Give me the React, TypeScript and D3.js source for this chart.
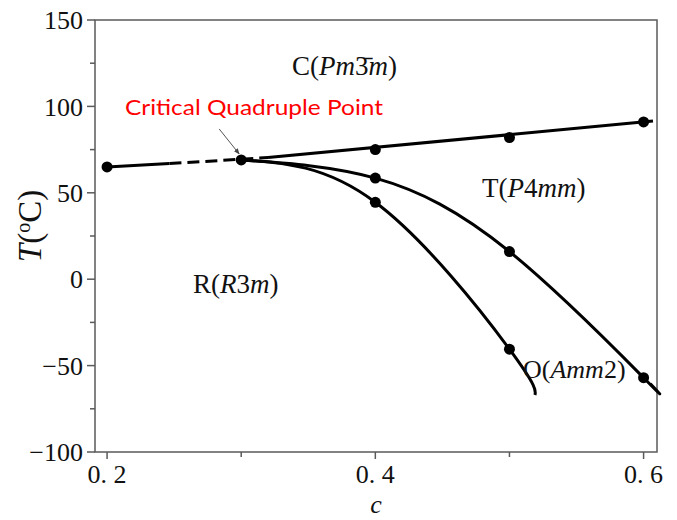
import React from "react";
import * as d3 from "d3";

const xTicksMajor = [0.2, 0.4, 0.6];
const xTickLabels = ["0. 2", "0. 4", "0. 6"];
const xTicksMinor = [0.3, 0.5];
const yTicksMajor = [150, 100, 50, 0, -50, -100];
const yTicksMinor = [125, 75, 25, -25, -75];

// C-T boundary points (measured)
const ctPoints: [number, number][] = [[0.2, 65], [0.3, 69], [0.4, 75], [0.5, 82], [0.6, 91]];
// T-O boundary points
const toPoints: [number, number][] = [[0.4, 58.5], [0.5, 16], [0.6, -57]];
// O-R boundary points
const orPoints: [number, number][] = [[0.4, 44.5], [0.5, -40.5]];

// boundary line paths
const leftSolid: [number, number][] = [[0.2, 65], [0.2465, 66.9]];
const dashedPart: [number, number][] = [[0.2465, 66.9], [0.32, 70.4]];
const rightSolid: [number, number][] = [[0.32, 70.4], [0.607, 91.5]];
const toCurve: [number, number][] = [[0.3, 69], [0.4, 58.5], [0.5, 16], [0.6, -57], [0.605, -60.5]];
const orCurve: [number, number][] = [[0.3, 69], [0.4, 44.5], [0.5, -40.5], [0.519, -67]];

const W = 677, H = 520;
const L = 95, R = 657, T = 20, B = 452;

export default function App() {
  const x = d3.scaleLinear().domain([0.191, 0.61]).range([L, R]);
  const y = d3.scaleLinear().domain([-100, 150]).range([B, T]);
  const straight = d3.line<[number, number]>().x(d => x(d[0])).y(d => y(d[1]));
  const smooth = d3.line<[number, number]>().x(d => x(d[0])).y(d => y(d[1])).curve(d3.curveNatural);
  const serif = "'Liberation Serif', 'Times New Roman', serif";
  const axisColor = "#5a5a5a";
  const cqp = [0.3, 69];
  const allDots = [...ctPoints, ...toPoints, ...orPoints];
  return (
    <svg width={W} height={H} style={{ position: "absolute", left: 0, top: 0, background: "#fff" }} fontFamily={serif}>
      <defs>
        <marker id="ah" viewBox="0 0 10 10" refX="9" refY="5" markerWidth="6" markerHeight="6" orient="auto">
          <path d="M0,1 L10,5 L0,9 z" fill="#444" />
        </marker>
      </defs>
      {/* frame */}
      <rect x={L} y={T} width={R - L} height={B - T} fill="none" stroke={axisColor} strokeWidth={1.5} />
      {/* y ticks */}
      {yTicksMajor.map(v => (
        <g key={"ym" + v}>
          <line x1={L - 8} x2={L} y1={y(v)} y2={y(v)} stroke={axisColor} strokeWidth={1.5} />
          <text x={L - 12} y={y(v)} dy="0.35em" textAnchor="end" fontSize={26} fill="#111">
            {v < 0 ? "\u2212" + Math.abs(v) : v}
          </text>
        </g>
      ))}
      {yTicksMinor.map(v => (
        <line key={"yn" + v} x1={L - 5} x2={L} y1={y(v)} y2={y(v)} stroke={axisColor} strokeWidth={1.5} />
      ))}
      {/* x ticks */}
      {xTicksMajor.map((v, i) => (
        <g key={"xm" + v}>
          <line x1={x(v)} x2={x(v)} y1={B} y2={B + 7} stroke={axisColor} strokeWidth={1.5} />
          <text x={x(v)} y={B + 31} textAnchor="middle" fontSize={26} fill="#111">{xTickLabels[i]}</text>
        </g>
      ))}
      {xTicksMinor.map(v => (
        <line key={"xn" + v} x1={x(v)} x2={x(v)} y1={B} y2={B + 5} stroke={axisColor} strokeWidth={1.5} />
      ))}
      {/* axis titles */}
      <text x={(L + R) / 2} y={513} textAnchor="middle" fontSize={26} fontStyle="italic" fill="#111">c</text>
      <text transform={`translate(41,${(T + B) / 2 - 10}) rotate(-90)`} textAnchor="middle" fontSize={33} fill="#111">
        <tspan fontStyle="italic">T</tspan>
        <tspan>(</tspan>
        <tspan fontSize={20} dy={-11}>o</tspan>
        <tspan dy={11}>C)</tspan>
      </text>
      {/* lines */}
      <path d={straight(leftSolid)!} fill="none" stroke="#000" strokeWidth={3} />
      <path d={straight(dashedPart)!} fill="none" stroke="#000" strokeWidth={3} strokeDasharray="12,6" />
      <path d={straight(rightSolid)!} fill="none" stroke="#000" strokeWidth={3} />
      <path d={smooth(toCurve)!} fill="none" stroke="#000" strokeWidth={3} />
      <path d={smooth(orCurve)!} fill="none" stroke="#000" strokeWidth={3} />
      {allDots.map((d, i) => (
        <circle key={i} cx={x(d[0])} cy={y(d[1])} r={5.5} fill="#000" />
      ))}
      {/* annotation */}
      <line x1={x(cqp[0]) - 22} y1={y(cqp[1]) - 31} x2={x(cqp[0]) - 2} y2={y(cqp[1]) - 6} stroke="#555" strokeWidth={1} markerEnd="url(#ah)" />
      <text x={125} y={115} fontSize={22} fill="#ff0000" fontFamily="Lato, 'Liberation Sans', Arial, sans-serif" textLength={258} lengthAdjust="spacingAndGlyphs">Critical Quadruple Point</text>
      {/* phase labels */}
      <text x={292} y={75} fontSize={27} fill="#111">
        C(<tspan fontStyle="italic">Pm</tspan>{"3\u0304"}<tspan fontStyle="italic">m</tspan>)
      </text>
      <text x={482} y={197} fontSize={27} fill="#111">
        T(<tspan fontStyle="italic">P</tspan>4<tspan fontStyle="italic">mm</tspan>)
      </text>
      <text x={193} y={293} fontSize={27} fill="#111">
        R(<tspan fontStyle="italic">R</tspan>3<tspan fontStyle="italic">m</tspan>)
      </text>
      <text x={523} y={378} fontSize={26} fill="#111">
        O(<tspan fontStyle="italic">Amm</tspan>2)
      </text>
    </svg>
  );
}
